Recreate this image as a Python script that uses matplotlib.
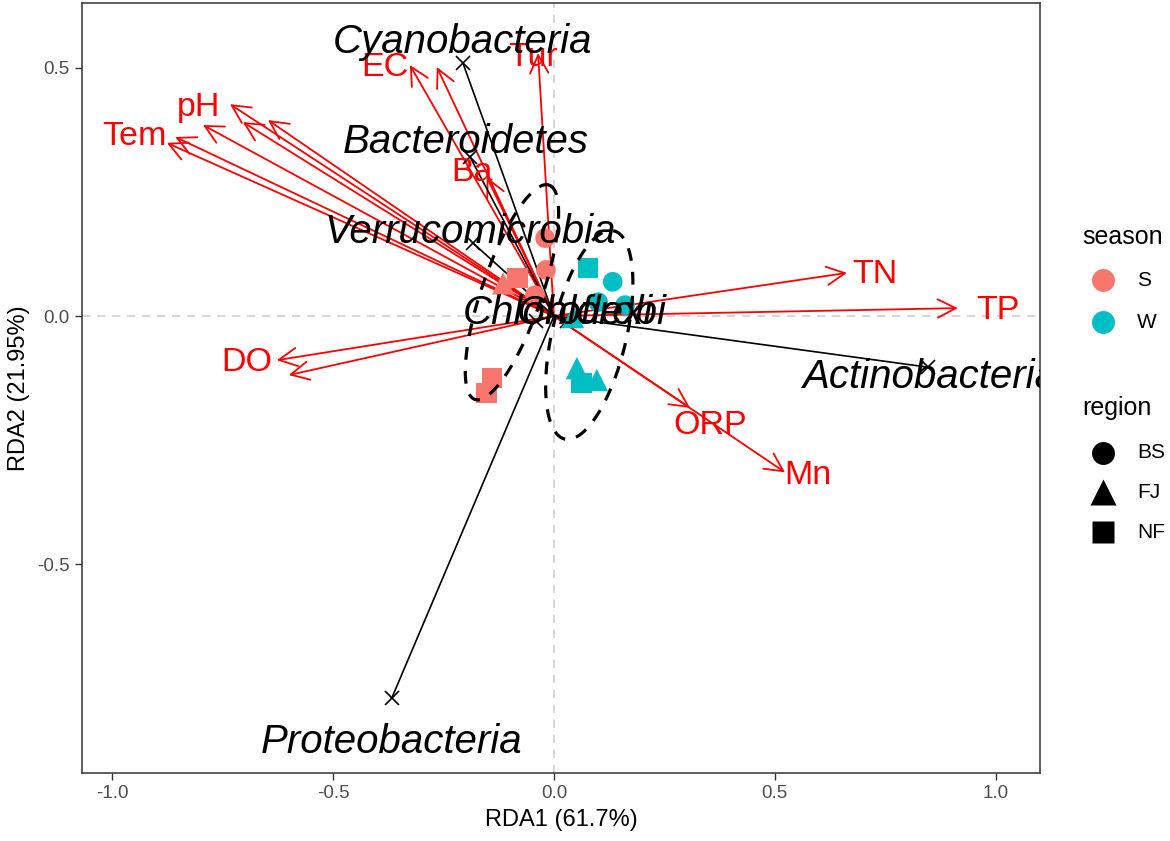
import numpy as np
import matplotlib
matplotlib.use("Agg")
from matplotlib import pyplot as plt
from matplotlib.lines import Line2D

plt.rcParams['font.family'] = ['Liberation Sans', 'DejaVu Sans']

# sample scores
season = ['S', 'S', 'S', 'S', 'S', 'S', 'S', 'W', 'W', 'W', 'W', 'W', 'W', 'W', 'W']
region = ['BS', 'BS', 'BS', 'FJ', 'NF', 'NF', 'NF', 'BS', 'BS', 'BS', 'NF', 'NF', 'FJ', 'FJ', 'FJ']
rda1 = [-0.020, -0.018, -0.043, -0.115, -0.082, -0.140, -0.152, 0.133, 0.100, 0.161, 0.077, 0.063, 0.043, 0.052, 0.097]
rda2 = [0.157, 0.093, 0.042, 0.066, 0.077, -0.125, -0.155, 0.069, 0.028, 0.022, 0.097, -0.135, -0.002, -0.105, -0.129]

# environmental arrows
env_x = [-0.876, -0.857, -0.794, -0.733, -0.704, -0.647, -0.326, -0.265, -0.036, -0.152,
         0.663, 0.914, -0.627, -0.600, 0.308, 0.523]
env_y = [0.349, 0.361, 0.385, 0.427, 0.391, 0.395, 0.506, 0.502, 0.530, 0.280,
         0.087, 0.016, -0.089, -0.119, -0.185, -0.315]
env_lab = ['Tem', 'pH', 'EC', 'Tur', 'Ba', 'TN', 'TP', 'DO', 'ORP', 'Mn']
env_lab_x = [-0.950, -0.805, -0.382, -0.048, -0.186, 0.726, 1.005, -0.695, 0.353, 0.575]
env_lab_y = [0.361, 0.421, 0.502, 0.522, 0.290, 0.083, 0.012, -0.093, -0.220, -0.321]

# species arrows
sp_names = ['Cyanobacteria', 'Bacteroidetes', 'Verrucomicrobia', 'Chloroflexi', 'Chlorobi',
            'Actinobacteria', 'Proteobacteria']
sp_x = [-0.206, -0.190, -0.183, -0.040, 0.030, 0.846, -0.367]
sp_y = [0.510, 0.321, 0.147, -0.010, -0.010, -0.103, -0.770]
sp_lab_x = [-0.206, -0.199, -0.190, -0.206, 0.085, 0.563, -0.367]
sp_lab_y = [0.552, 0.351, 0.169, 0.006, 0.006, -0.123, -0.859]
sp_ha = ['center', 'center', 'center', 'left', 'center', 'left', 'center']

# confidence ellipses (center, major half axis, minor half axis)
ell_c = [(-0.095, 0.048), (0.080, -0.038)]
ell_major = [(0.084, 0.216), (0.055, 0.210)]
ell_minor = [(0.064, -0.020), (0.082, -0.016)]

colors = {'S': '#F8766D', 'W': '#00BFC4'}
markers = {'BS': 'o', 'FJ': '^', 'NF': 's'}
msize = {'BS': 200, 'FJ': 260, 'NF': 220}

fig = plt.figure(figsize=(11.7, 8.41), dpi=100)
ax = fig.add_axes([82 / 1170, 68 / 841, 958 / 1170, 770 / 841])

ax.axhline(0, color='#d0d0d0', ls=(0, (5, 4)), lw=1.2, zorder=1)
ax.axvline(0, color='#d0d0d0', ls=(0, (5, 4)), lw=1.2, zorder=1)

# env arrows
for x, y in zip(env_x, env_y):
    ax.annotate('', xy=(x, y), xytext=(0, 0),
                arrowprops=dict(arrowstyle='->,head_length=0.65,head_width=0.33',
                                color='red', lw=1.3, shrinkA=0, shrinkB=0,
                                mutation_scale=20), zorder=3)

# species arrows
for x, y in zip(sp_x, sp_y):
    ax.plot([0, x], [0, y], color='black', lw=1.2, zorder=3)
    ax.plot(x, y, marker='x', color='black', ms=10, mew=1.2, zorder=3)

# points
for s, r, x, y in zip(season, region, rda1, rda2):
    ax.scatter(x, y, s=msize[r], marker=markers[r], color=colors[s], edgecolors='none', zorder=4)

# ellipses
t = np.linspace(0, 2 * np.pi, 200)
for c, a, b in zip(ell_c, ell_major, ell_minor):
    ex = c[0] + a[0] * np.cos(t) + b[0] * np.sin(t)
    ey = c[1] + a[1] * np.cos(t) + b[1] * np.sin(t)
    ax.plot(ex, ey, color='black', lw=2.3, ls=(0, (4, 3.5)), zorder=5)

for lab, x, y in zip(env_lab, env_lab_x, env_lab_y):
    ax.text(x, y, lab, color='red', fontsize=24.5, ha='center', va='center', zorder=6, clip_on=True)

for lab, x, y, ha in zip(sp_names, sp_lab_x, sp_lab_y, sp_ha):
    ax.text(x, y, lab, color='black', fontsize=29, style='italic', ha=ha, va='center',
            zorder=6, clip_on=True)

ax.set_xlim(-1.068, 1.100)
ax.set_ylim(-0.921, 0.631)
ax.set_xticks([-1.0, -0.5, 0.0, 0.5, 1.0])
ax.set_xticklabels(['-1.0', '-0.5', '0.0', '0.5', '1.0'])
ax.set_yticks([-0.5, 0.0, 0.5])
ax.set_yticklabels(['-0.5', '0.0', '0.5'])
ax.tick_params(labelsize=13.5, labelcolor='#4D4D4D', color='#333333', length=5, width=1, pad=4)
for sp in ax.spines.values():
    sp.set_color('#333333')
    sp.set_linewidth(1.1)
ax.set_xlabel('RDA1 (61.7%)', fontsize=17, labelpad=5)
ax.set_ylabel('RDA2 (21.95%)', fontsize=17, labelpad=5)

# legends
W, H = 1170, 841
def fx(px):
    return px / W
def fy(py):
    return 1 - py / H

fig.text(fx(1082), fy(237), 'season', fontsize=18, va='center', ha='left')
for lab, py in zip(['S', 'W'], [280, 322]):
    fig.add_artist(Line2D([fx(1103)], [fy(py)], marker='o', ms=16.5, color=colors[lab],
                          mec='none', transform=fig.transFigure))
    fig.text(fx(1137), fy(py), lab, fontsize=15, va='center', ha='left')

fig.text(fx(1082), fy(408), 'region', fontsize=18, va='center', ha='left')
for lab, py, ms in zip(['BS', 'FJ', 'NF'], [453, 492, 532], [16.5, 19, 16]):
    fig.add_artist(Line2D([fx(1103)], [fy(py)], marker=markers[lab], ms=ms, color='black',
                          mec='none', transform=fig.transFigure))
    fig.text(fx(1137), fy(py), lab, fontsize=15, va='center', ha='left')

fig.savefig('out.png', dpi=100)
